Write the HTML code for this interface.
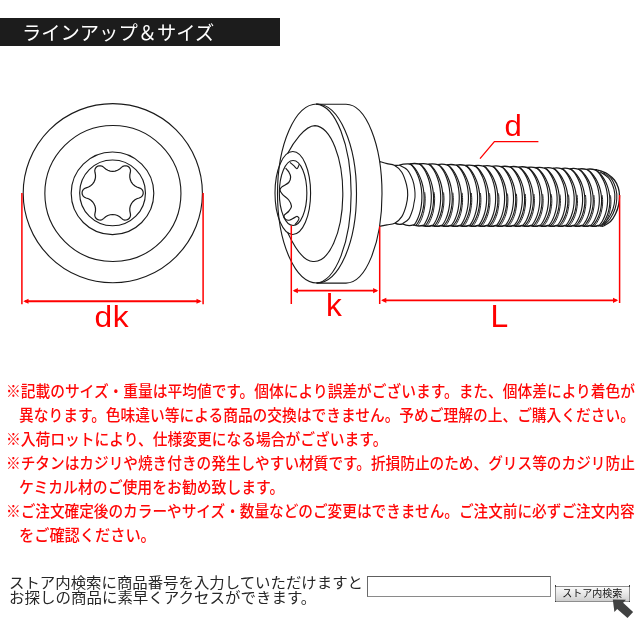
<!DOCTYPE html>
<html lang="ja"><head><meta charset="utf-8"><title>ラインアップ＆サイズ</title>
<style>
html,body{margin:0;padding:0;background:#fff}
body{width:640px;height:640px;position:relative;overflow:hidden;font-family:"Liberation Sans","Noto Sans CJK JP",sans-serif}
.art{position:absolute;left:0;top:0;will-change:transform}
.hd{position:absolute;left:0;top:18px;width:280px;height:28px;background:#1c1c1c;color:#fff;font-size:19.3px;line-height:28px;white-space:nowrap}
.hd span{position:absolute;left:21.5px;top:1.5px;will-change:transform}
.n{position:absolute;left:5.6px;height:24px;line-height:24px;font-size:16px;font-weight:500;color:#ff0808;white-space:nowrap;transform:scaleX(0.92);transform-origin:0 50%}
.n.i{left:18.6px}
.s{position:absolute;left:9.2px;font-size:14.6px;line-height:15px;color:#262626;white-space:nowrap;transform:scaleX(1.058);transform-origin:0 50%;will-change:transform}
.inp{position:absolute;left:367px;top:576px;width:182px;height:19px;box-sizing:content-box;border:1px solid #8a8a8a;border-top-color:#5e5e5e;border-left-color:#6a6a6a;background:#fff}
.btn{position:absolute;left:555px;top:585.5px;width:72.6px;height:14.1px;border:1px solid #8e8e8e;background:linear-gradient(#fafafa,#e9e9e9 45%,#cfcfcf);font-size:10px;line-height:14.4px;color:#111;text-align:center;font-weight:400;white-space:nowrap;box-sizing:content-box;will-change:transform}
.h{position:absolute;width:1.8px;height:1.8px;background:#3a3a3a}
.cur{position:absolute;left:610px;top:596px}
</style></head><body>
<div class="hd"><span>ラインアップ＆サイズ</span></div>
<svg class="art" width="640" height="640" viewBox="0 0 640 640">
<g fill="none" stroke="#1a1a1a" stroke-width="1.12">
<circle cx="112.8" cy="193.2" r="89.6"/>
<circle cx="112.9" cy="193.5" r="68.05"/>
<circle cx="112.5" cy="193.3" r="41.3"/>
<circle cx="112.55" cy="192.9" r="32.9"/>
<path d="M139.17 187.82L140.79 188.48L142.1 189.64L142.96 191.17L143.25 192.9L142.96 194.63L142.1 196.16L140.79 197.32L139.17 197.98L136.81 198.76L134.66 200.02L132.82 201.69L131.36 203.7L130.34 205.97L129.82 208.4L129.81 210.89L130.31 213.33L130.55 215.06L130.2 216.78L129.3 218.28L127.95 219.4L126.31 220.01L124.56 220.04L122.89 219.48L121.51 218.41L119.65 216.75L117.49 215.52L115.12 214.76L112.65 214.5L110.18 214.76L107.81 215.52L105.65 216.75L103.79 218.41L102.41 219.48L100.74 220.04L98.99 220.01L97.35 219.4L96 218.28L95.1 216.78L94.75 215.06L94.99 213.33L95.49 210.89L95.48 208.4L94.96 205.97L93.94 203.7L92.48 201.69L90.64 200.02L88.49 198.76L86.13 197.98L84.51 197.32L83.2 196.16L82.34 194.63L82.05 192.9L82.34 191.17L83.2 189.64L84.51 188.48L86.13 187.82L88.49 187.04L90.64 185.78L92.48 184.11L93.94 182.1L94.96 179.83L95.48 177.4L95.49 174.91L94.99 172.47L94.75 170.74L95.1 169.02L96 167.52L97.35 166.4L98.99 165.79L100.74 165.76L102.41 166.32L103.79 167.39L105.65 169.05L107.81 170.28L110.18 171.04L112.65 171.3L115.12 171.04L117.49 170.28L119.65 169.05L121.51 167.39L122.89 166.32L124.56 165.76L126.31 165.79L127.95 166.4L129.3 167.52L130.2 169.02L130.55 170.74L130.31 172.47L129.81 174.91L129.82 177.4L130.34 179.83L131.36 182.1L132.82 184.11L134.66 185.78L136.81 187.04Z" stroke-width="1.2"/>
<ellipse cx="317" cy="193.55" rx="39.5" ry="89.5"/>
<path d="M316 104.1A36 89.5 0 0 1 316 283.05"/>
<path d="M316.5 104.3L346 104.3A36 89.4 0 0 1 346 283.1L317 283.1"/>
<path d="M287.5 153.8C293 143 305 125.6 315 125.6A28.6 67.5 0 0 1 313 261.5C303 261.5 293 244 287.5 232.2"/>
<ellipse cx="292.8" cy="193" rx="17.8" ry="41.5"/>
<ellipse cx="293.1" cy="193" rx="13.75" ry="32.5"/>
<path d="M285.62 168.12C286.15 168.75 287.92 170.42 288.75 171.88C289.58 173.33 290.62 175.1 290.62 176.88C290.62 178.65 290.21 180.83 288.75 182.5C287.29 184.17 283.33 185.62 281.88 186.88C280.42 188.12 279.9 188.75 280 190C280.1 191.25 281.04 192.71 282.5 194.38C283.96 196.04 287.25 198.02 288.75 200C290.25 201.98 291.5 204.38 291.5 206.25C291.5 208.12 290 209.69 288.75 211.25C287.5 212.81 284.52 214.27 284 215.62C283.48 216.98 284.62 218.65 285.62 219.38C286.62 220.1 288.12 220.52 290 220C291.88 219.48 295.73 216.88 296.88 216.25" stroke-width="1.2"/>
<path d="M290 162.5C290.62 163.02 292.6 164.58 293.75 165.62C294.9 166.67 296.08 168.65 296.88 168.75C297.67 168.85 298.08 167.04 298.5 166.25C298.92 165.46 299.23 164.38 299.38 164"/>
<path d="M296.88 216.25C297.23 216.56 298.85 217.29 299 218.12C299.15 218.96 298.42 220.17 297.75 221.25C297.08 222.33 295.46 224.06 295 224.62"/>
<path d="M379.9 161.6C381.08 161.93 384.52 162.95 387 163.6C389.48 164.25 392.28 164.07 394.75 165.5C397.22 166.93 399.84 169 401.8 172.2C403.76 175.4 405.52 180.9 406.5 184.7C407.48 188.5 407.77 191.52 407.7 195C407.63 198.48 407.08 202 406.1 205.6C405.12 209.2 403.69 213.67 401.8 216.6C399.91 219.53 397.22 221.82 394.75 223.2C392.28 224.58 389.54 224.38 387 224.9C384.46 225.42 380.75 226.07 379.5 226.3" stroke-width="1.15"/>
<path d="M399.4 165.2C400.71 165.97 405.03 167.33 407.25 169.8C409.47 172.27 411.46 176.73 412.7 180C413.94 183.27 414.32 186.57 414.7 189.4C415.08 192.23 415.13 194.65 415 197C414.87 199.35 414.28 201.42 413.9 203.5C413.52 205.58 413.55 206.93 412.7 209.5C411.85 212.07 410.48 216.55 408.8 218.9C407.12 221.25 403.63 222.82 402.6 223.6" stroke-width="1.05"/>
<path d="M409.8 164C410.02 164.13 410.56 164.26 411.13 164.77C411.71 165.28 412.5 166.06 413.24 167.05C413.99 168.04 414.84 169.29 415.62 170.71C416.4 172.13 417.21 173.8 417.91 175.58C418.62 177.37 419.3 179.36 419.85 181.41C420.4 183.47 420.88 185.69 421.21 187.92C421.54 190.14 421.76 192.48 421.85 194.76C421.93 197.04 421.88 199.38 421.72 201.6C421.56 203.83 421.26 206.05 420.88 208.11C420.5 210.16 419.99 212.15 419.46 213.94C418.92 215.72 418.28 217.39 417.67 218.81C417.07 220.23 416.39 221.48 415.81 222.47C415.24 223.46 414.62 224.24 414.22 224.75C413.82 225.26 413.54 225.39 413.4 225.52" stroke-width="1.15"/>
<path d="M409.8 164C410.07 164.13 410.72 164.26 411.4 164.77C412.08 165.28 413 166.06 413.87 167.06C414.74 168.05 415.73 169.31 416.64 170.74C417.54 172.17 418.49 173.84 419.31 175.63C420.14 177.42 420.94 179.42 421.59 181.49C422.24 183.55 422.81 185.78 423.22 188.01C423.63 190.25 423.92 192.6 424.05 194.89C424.18 197.18 424.16 199.53 424.02 201.76C423.88 203.99 423.58 206.22 423.19 208.29C422.81 210.35 422.27 212.35 421.71 214.14C421.16 215.93 420.48 217.61 419.84 219.03C419.2 220.46 418.48 221.72 417.87 222.71C417.27 223.71 416.61 224.49 416.2 225C415.79 225.51 415.53 225.64 415.4 225.77" stroke-width="1.15"/>
<path d="M424.77 192.31C424.85 193.38 425.19 196.61 425.22 198.72C425.24 200.84 425.14 202.97 424.94 204.98C424.74 207 424.42 208.98 424.03 210.81C423.65 212.64 423.15 214.4 422.64 215.96C422.13 217.53 421.54 218.98 420.99 220.22C420.43 221.46 419.83 222.54 419.32 223.4C418.82 224.25 418.29 224.92 417.97 225.36C417.65 225.8 417.49 225.91 417.4 226.02" stroke-width="0.95"/>
<path d="M419.19 164C419.41 164.13 419.95 164.27 420.52 164.78C421.1 165.29 421.89 166.08 422.64 167.07C423.39 168.07 424.25 169.34 425.03 170.77C425.81 172.21 426.62 173.89 427.33 175.69C428.04 177.49 428.73 179.5 429.28 181.58C429.83 183.65 430.31 185.9 430.64 188.14C430.97 190.39 431.2 192.75 431.28 195.05C431.37 197.35 431.32 199.71 431.15 201.96C430.99 204.2 430.69 206.45 430.31 208.52C429.93 210.6 429.41 212.61 428.88 214.41C428.34 216.21 427.69 217.89 427.08 219.33C426.47 220.76 425.79 222.03 425.21 223.03C424.64 224.02 424.01 224.81 423.61 225.32C423.21 225.83 422.92 225.97 422.79 226.1" stroke-width="1.15"/>
<path d="M419.19 164C419.45 164.13 420.11 164.27 420.79 164.78C421.47 165.29 422.4 166.08 423.27 167.07C424.15 168.07 425.14 169.34 426.05 170.77C426.96 172.21 427.9 173.89 428.73 175.69C429.56 177.49 430.36 179.5 431.02 181.58C431.67 183.65 432.24 185.9 432.65 188.14C433.06 190.39 433.35 192.75 433.48 195.05C433.62 197.35 433.6 199.71 433.45 201.96C433.31 204.2 433 206.45 432.62 208.52C432.23 210.6 431.7 212.61 431.13 214.41C430.57 216.21 429.89 217.89 429.25 219.33C428.6 220.76 427.88 222.03 427.27 223.03C426.66 224.02 426.01 224.81 425.59 225.32C425.18 225.83 424.92 225.97 424.79 226.1" stroke-width="1.15"/>
<path d="M434.21 192.34C434.28 193.41 434.62 196.65 434.65 198.77C434.68 200.88 434.57 203.01 434.37 205.03C434.17 207.05 433.84 209.03 433.46 210.87C433.07 212.7 432.57 214.46 432.06 216.03C431.55 217.6 430.95 219.05 430.39 220.29C429.84 221.53 429.23 222.61 428.72 223.47C428.22 224.33 427.68 225 427.36 225.44C427.04 225.87 426.88 225.99 426.79 226.1" stroke-width="0.95"/>
<path d="M428.51 164.28C428.74 164.41 429.28 164.54 429.85 165.05C430.43 165.56 431.23 166.34 431.98 167.34C432.74 168.33 433.59 169.59 434.37 171.02C435.16 172.45 435.98 174.12 436.69 175.92C437.4 177.71 438.09 179.71 438.64 181.78C439.2 183.84 439.68 186.07 440.01 188.31C440.35 190.55 440.57 192.9 440.65 195.19C440.74 197.48 440.69 199.83 440.52 202.07C440.36 204.3 440.05 206.53 439.67 208.6C439.29 210.67 438.77 212.67 438.23 214.46C437.69 216.25 437.05 217.93 436.43 219.36C435.82 220.79 435.14 222.04 434.55 223.04C433.97 224.03 433.35 224.81 432.94 225.32C432.53 225.84 432.25 225.97 432.11 226.1" stroke-width="1.15"/>
<path d="M428.51 164.28C428.78 164.41 429.44 164.54 430.12 165.05C430.81 165.56 431.73 166.34 432.61 167.34C433.49 168.33 434.48 169.59 435.39 171.02C436.31 172.45 437.26 174.12 438.09 175.92C438.92 177.71 439.73 179.71 440.38 181.78C441.04 183.84 441.61 186.07 442.02 188.31C442.43 190.55 442.72 192.9 442.85 195.19C442.99 197.48 442.97 199.83 442.82 202.07C442.68 204.3 442.37 206.53 441.98 208.6C441.59 210.67 441.06 212.67 440.49 214.46C439.93 216.25 439.24 217.93 438.59 219.36C437.95 220.79 437.22 222.04 436.61 223.04C436 224.03 435.34 224.81 434.92 225.32C434.51 225.84 434.25 225.97 434.11 226.1" stroke-width="1.15"/>
<path d="M443.58 192.49C443.65 193.56 443.99 196.78 444.02 198.89C444.05 200.99 443.94 203.12 443.74 205.12C443.54 207.13 443.21 209.11 442.82 210.94C442.43 212.76 441.93 214.51 441.41 216.07C440.9 217.64 440.3 219.08 439.74 220.31C439.18 221.55 438.57 222.63 438.06 223.48C437.55 224.34 437.01 225 436.69 225.44C436.36 225.87 436.21 225.99 436.11 226.1" stroke-width="0.95"/>
<path d="M437.78 164.58C438 164.71 438.54 164.84 439.12 165.35C439.7 165.86 440.5 166.63 441.26 167.62C442.02 168.61 442.87 169.87 443.66 171.29C444.45 172.71 445.27 174.38 445.99 176.16C446.7 177.94 447.39 179.94 447.95 181.99C448.5 184.05 448.98 186.27 449.32 188.49C449.66 190.72 449.88 193.06 449.97 195.34C450.05 197.62 450 199.96 449.83 202.18C449.67 204.41 449.36 206.63 448.98 208.69C448.59 210.74 448.07 212.73 447.53 214.52C446.99 216.3 446.34 217.97 445.72 219.39C445.1 220.81 444.42 222.06 443.83 223.05C443.25 224.04 442.62 224.82 442.21 225.33C441.8 225.84 441.52 225.97 441.38 226.1" stroke-width="1.15"/>
<path d="M437.78 164.58C438.05 164.71 438.71 164.84 439.39 165.35C440.08 165.86 441.01 166.63 441.89 167.62C442.77 168.61 443.77 169.87 444.68 171.29C445.6 172.71 446.55 174.38 447.39 176.16C448.22 177.94 449.03 179.94 449.69 181.99C450.34 184.05 450.92 186.27 451.33 188.49C451.75 190.72 452.03 193.06 452.17 195.34C452.3 197.62 452.28 199.96 452.13 202.18C451.99 204.41 451.68 206.63 451.29 208.69C450.9 210.74 450.36 212.73 449.79 214.52C449.22 216.3 448.53 217.97 447.88 219.39C447.23 220.81 446.5 222.06 445.89 223.05C445.27 224.04 444.61 224.82 444.19 225.33C443.77 225.84 443.51 225.97 443.38 226.1" stroke-width="1.15"/>
<path d="M452.89 192.66C452.96 193.72 453.3 196.93 453.33 199.02C453.36 201.12 453.25 203.23 453.05 205.23C452.84 207.22 452.51 209.19 452.12 211.01C451.73 212.82 451.22 214.57 450.71 216.12C450.19 217.68 449.59 219.11 449.02 220.34C448.46 221.57 447.85 222.65 447.34 223.49C446.82 224.34 446.28 225.01 445.96 225.44C445.63 225.88 445.47 225.99 445.38 226.1" stroke-width="0.95"/>
<path d="M446.98 164.88C447.21 165 447.75 165.14 448.33 165.64C448.92 166.15 449.72 166.92 450.48 167.91C451.24 168.89 452.1 170.14 452.89 171.56C453.68 172.97 454.51 174.63 455.22 176.4C455.94 178.18 456.63 180.16 457.19 182.21C457.75 184.25 458.23 186.46 458.57 188.68C458.91 190.89 459.13 193.22 459.22 195.49C459.3 197.76 459.25 200.09 459.08 202.3C458.92 204.51 458.61 206.72 458.22 208.77C457.83 210.82 457.31 212.8 456.77 214.57C456.22 216.35 455.57 218.01 454.95 219.42C454.33 220.84 453.64 222.08 453.05 223.07C452.46 224.05 451.83 224.83 451.42 225.33C451.01 225.84 450.72 225.97 450.58 226.1" stroke-width="1.15"/>
<path d="M446.98 164.88C447.25 165 447.91 165.14 448.6 165.64C449.29 166.15 450.22 166.92 451.11 167.91C451.99 168.89 452.99 170.14 453.91 171.56C454.83 172.97 455.79 174.63 456.62 176.4C457.46 178.18 458.27 180.16 458.93 182.21C459.59 184.25 460.17 186.46 460.58 188.68C460.99 190.89 461.28 193.22 461.42 195.49C461.55 197.76 461.53 200.09 461.38 202.3C461.23 204.51 460.92 206.72 460.53 208.77C460.14 210.82 459.59 212.8 459.02 214.57C458.45 216.35 457.76 218.01 457.11 219.42C456.46 220.84 455.72 222.08 455.11 223.07C454.49 224.05 453.82 224.83 453.4 225.33C452.98 225.84 452.72 225.97 452.58 226.1" stroke-width="1.15"/>
<path d="M462.14 192.82C462.21 193.88 462.55 197.07 462.58 199.15C462.61 201.24 462.5 203.34 462.29 205.33C462.09 207.32 461.75 209.28 461.36 211.08C460.97 212.89 460.46 214.62 459.94 216.17C459.42 217.72 458.81 219.15 458.25 220.37C457.68 221.59 457.07 222.66 456.55 223.51C456.04 224.35 455.49 225.01 455.17 225.44C454.84 225.88 454.68 225.99 454.58 226.1" stroke-width="0.95"/>
<path d="M456.13 165.17C456.35 165.3 456.9 165.44 457.48 165.94C458.07 166.44 458.87 167.21 459.63 168.19C460.4 169.17 461.26 170.41 462.06 171.82C462.85 173.23 463.68 174.88 464.4 176.64C465.12 178.41 465.81 180.38 466.37 182.42C466.93 184.46 467.42 186.66 467.76 188.86C468.1 191.06 468.32 193.38 468.41 195.64C468.49 197.9 468.44 200.21 468.27 202.42C468.1 204.62 467.79 206.82 467.4 208.85C467.01 210.89 466.49 212.86 465.94 214.63C465.39 216.4 464.74 218.05 464.11 219.45C463.49 220.86 462.8 222.1 462.21 223.08C461.62 224.06 460.98 224.83 460.57 225.34C460.15 225.84 459.87 225.97 459.73 226.1" stroke-width="1.15"/>
<path d="M456.13 165.17C456.4 165.3 457.06 165.44 457.75 165.94C458.44 166.44 459.38 167.21 460.26 168.19C461.15 169.17 462.15 170.41 463.08 171.82C464 173.23 464.96 174.88 465.8 176.64C466.64 178.41 467.45 180.38 468.11 182.42C468.78 184.46 469.35 186.66 469.77 188.86C470.18 191.06 470.47 193.38 470.61 195.64C470.74 197.9 470.72 200.21 470.57 202.42C470.42 204.62 470.11 206.82 469.71 208.85C469.32 210.89 468.77 212.86 468.2 214.63C467.63 216.4 466.93 218.05 466.28 219.45C465.62 220.86 464.88 222.1 464.26 223.08C463.64 224.06 462.97 224.83 462.55 225.34C462.13 225.84 461.86 225.97 461.73 226.1" stroke-width="1.15"/>
<path d="M471.33 192.98C471.4 194.03 471.75 197.21 471.77 199.28C471.8 201.36 471.68 203.45 471.48 205.43C471.28 207.41 470.94 209.36 470.54 211.16C470.15 212.95 469.64 214.68 469.11 216.22C468.59 217.76 467.98 219.18 467.41 220.4C466.85 221.62 466.22 222.68 465.71 223.52C465.19 224.36 464.64 225.02 464.31 225.45C463.98 225.88 463.82 225.99 463.73 226.1" stroke-width="0.95"/>
<path d="M465.21 165.47C465.44 165.6 465.99 165.73 466.57 166.23C467.16 166.73 467.97 167.5 468.73 168.47C469.5 169.45 470.37 170.68 471.16 172.08C471.96 173.49 472.79 175.13 473.52 176.88C474.24 178.64 474.94 180.61 475.5 182.63C476.06 184.66 476.55 186.85 476.89 189.04C477.23 191.23 477.45 193.54 477.54 195.78C477.62 198.03 477.57 200.34 477.4 202.53C477.23 204.72 476.92 206.91 476.53 208.94C476.14 210.96 475.61 212.93 475.06 214.69C474.51 216.44 473.85 218.08 473.22 219.49C472.6 220.89 471.9 222.12 471.3 223.1C470.71 224.07 470.07 224.84 469.66 225.34C469.24 225.84 468.95 225.97 468.81 226.1" stroke-width="1.15"/>
<path d="M465.21 165.47C465.48 165.6 466.15 165.73 466.84 166.23C467.53 166.73 468.47 167.5 469.36 168.47C470.25 169.45 471.26 170.68 472.18 172.08C473.11 173.49 474.07 175.13 474.92 176.88C475.76 178.64 476.57 180.61 477.24 182.63C477.9 184.66 478.48 186.85 478.9 189.04C479.31 191.23 479.6 193.54 479.74 195.78C479.87 198.03 479.85 200.34 479.7 202.53C479.55 204.72 479.24 206.91 478.84 208.94C478.44 210.96 477.89 212.93 477.32 214.69C476.74 216.44 476.04 218.08 475.38 219.49C474.72 220.89 473.99 222.12 473.36 223.1C472.74 224.07 472.07 224.84 471.64 225.34C471.22 225.84 470.95 225.97 470.81 226.1" stroke-width="1.15"/>
<path d="M480.46 193.14C480.53 194.19 480.88 197.35 480.9 199.41C480.93 201.48 480.81 203.56 480.61 205.53C480.4 207.5 480.06 209.44 479.66 211.23C479.27 213.02 478.75 214.73 478.23 216.27C477.7 217.8 477.09 219.22 476.52 220.43C475.95 221.64 475.32 222.7 474.8 223.53C474.29 224.37 473.74 225.02 473.4 225.45C473.07 225.88 472.91 225.99 472.81 226.1" stroke-width="0.95"/>
<path d="M474.24 165.76C474.46 165.89 475.01 166.02 475.6 166.52C476.19 167.02 477 167.78 477.77 168.75C478.54 169.72 479.41 170.95 480.21 172.34C481.01 173.74 481.85 175.37 482.57 177.12C483.3 178.87 484 180.83 484.56 182.84C485.13 184.86 485.61 187.04 485.96 189.22C486.3 191.4 486.52 193.69 486.61 195.93C486.69 198.17 486.64 200.46 486.47 202.64C486.3 204.83 485.98 207 485.59 209.02C485.2 211.04 484.67 212.99 484.12 214.74C483.56 216.49 482.9 218.12 482.27 219.52C481.64 220.91 480.94 222.14 480.34 223.11C479.75 224.08 479.11 224.85 478.69 225.34C478.27 225.84 477.98 225.97 477.84 226.1" stroke-width="1.15"/>
<path d="M474.24 165.76C474.51 165.89 475.18 166.02 475.87 166.52C476.57 167.02 477.51 167.78 478.4 168.75C479.29 169.72 480.3 170.95 481.23 172.34C482.16 173.74 483.13 175.37 483.97 177.12C484.82 178.87 485.64 180.83 486.3 182.84C486.97 184.86 487.55 187.04 487.97 189.22C488.39 191.4 488.67 193.69 488.81 195.93C488.94 198.17 488.92 200.46 488.77 202.64C488.62 204.83 488.3 207 487.9 209.02C487.5 211.04 486.95 212.99 486.37 214.74C485.8 216.49 485.09 218.12 484.43 219.52C483.77 220.91 483.03 222.14 482.4 223.11C481.77 224.08 481.1 224.85 480.67 225.34C480.24 225.84 479.98 225.97 479.84 226.1" stroke-width="1.15"/>
<path d="M489.53 193.3C489.6 194.34 489.95 197.49 489.97 199.54C490 201.6 489.88 203.67 489.68 205.63C489.47 207.59 489.12 209.52 488.73 211.3C488.33 213.08 487.81 214.79 487.28 216.31C486.76 217.84 486.14 219.25 485.57 220.45C484.99 221.66 484.36 222.71 483.84 223.55C483.32 224.38 482.77 225.03 482.43 225.45C482.1 225.88 481.94 225.99 481.84 226.1" stroke-width="0.95"/>
<path d="M483.2 166.05C483.43 166.18 483.98 166.31 484.58 166.81C485.17 167.3 485.98 168.06 486.75 169.03C487.52 169.99 488.4 171.22 489.2 172.6C490.01 173.99 490.84 175.62 491.57 177.36C492.3 179.1 493 181.04 493.57 183.05C494.13 185.06 494.62 187.23 494.97 189.4C495.31 191.57 495.53 193.85 495.62 196.08C495.71 198.3 495.65 200.59 495.48 202.76C495.31 204.93 494.99 207.1 494.6 209.1C494.2 211.11 493.67 213.05 493.11 214.8C492.56 216.54 491.89 218.16 491.26 219.55C490.63 220.94 489.92 222.16 489.32 223.13C488.72 224.09 488.08 224.85 487.66 225.35C487.24 225.84 486.95 225.97 486.8 226.1" stroke-width="1.15"/>
<path d="M483.2 166.05C483.48 166.18 484.15 166.31 484.84 166.81C485.54 167.3 486.48 168.06 487.38 169.03C488.28 169.99 489.29 171.22 490.22 172.6C491.15 173.99 492.12 175.62 492.97 177.36C493.82 179.1 494.64 181.04 495.31 183.05C495.98 185.06 496.56 187.23 496.98 189.4C497.4 191.57 497.69 193.85 497.82 196.08C497.95 198.3 497.93 200.59 497.78 202.76C497.63 204.93 497.31 207.1 496.91 209.1C496.51 211.11 495.95 213.05 495.37 214.8C494.79 216.54 494.09 218.16 493.42 219.55C492.76 220.94 492.01 222.16 491.38 223.13C490.75 224.09 490.07 224.85 489.64 225.35C489.21 225.84 488.94 225.97 488.8 226.1" stroke-width="1.15"/>
<path d="M498.54 193.46C498.62 194.5 498.96 197.63 498.98 199.67C499.01 201.72 498.89 203.78 498.68 205.73C498.47 207.68 498.13 209.6 497.73 211.37C497.33 213.14 496.81 214.84 496.28 216.36C495.75 217.88 495.13 219.28 494.55 220.48C493.98 221.68 493.35 222.73 492.82 223.56C492.3 224.39 491.74 225.03 491.41 225.46C491.07 225.88 490.9 225.99 490.8 226.1" stroke-width="0.95"/>
<path d="M492.11 166.34C492.34 166.47 492.9 166.6 493.49 167.09C494.08 167.59 494.9 168.34 495.67 169.3C496.45 170.26 497.33 171.48 498.13 172.86C498.94 174.24 499.78 175.86 500.51 177.59C501.24 179.33 501.95 181.26 502.52 183.26C503.08 185.25 503.58 187.41 503.92 189.57C504.26 191.73 504.49 194.01 504.57 196.22C504.66 198.44 504.6 200.71 504.43 202.87C504.26 205.03 503.94 207.19 503.54 209.19C503.15 211.18 502.61 213.12 502.05 214.85C501.5 216.58 500.83 218.2 500.19 219.58C499.56 220.96 498.85 222.18 498.25 223.14C497.64 224.1 497 224.86 496.58 225.35C496.15 225.84 495.86 225.98 495.71 226.1" stroke-width="1.15"/>
<path d="M492.11 166.34C492.39 166.47 493.06 166.6 493.76 167.09C494.46 167.59 495.4 168.34 496.3 169.3C497.2 170.26 498.22 171.48 499.15 172.86C500.09 174.24 501.06 175.86 501.91 177.59C502.76 179.33 503.59 181.26 504.26 183.26C504.93 185.25 505.51 187.41 505.93 189.57C506.35 191.73 506.64 194.01 506.77 196.22C506.91 198.44 506.88 200.71 506.73 202.87C506.58 205.03 506.26 207.19 505.86 209.19C505.45 211.18 504.9 213.12 504.31 214.85C503.73 216.58 503.02 218.2 502.35 219.58C501.68 220.96 500.94 222.18 500.3 223.14C499.67 224.1 498.99 224.86 498.56 225.35C498.13 225.84 497.85 225.98 497.71 226.1" stroke-width="1.15"/>
<path d="M507.5 193.62C507.57 194.65 507.91 197.76 507.94 199.8C507.96 201.83 507.84 203.89 507.63 205.83C507.42 207.77 507.08 209.68 506.67 211.44C506.27 213.21 505.75 214.9 505.22 216.41C504.68 217.92 504.06 219.31 503.48 220.51C502.9 221.7 502.27 222.74 501.74 223.57C501.21 224.4 500.66 225.04 500.32 225.46C499.98 225.88 499.81 225.99 499.71 226.1" stroke-width="0.95"/>
<path d="M500.96 166.63C501.19 166.76 501.75 166.89 502.35 167.38C502.94 167.87 503.76 168.62 504.54 169.58C505.32 170.53 506.2 171.74 507.01 173.12C507.82 174.49 508.66 176.1 509.39 177.83C510.13 179.55 510.84 181.48 511.4 183.46C511.97 185.45 512.47 187.6 512.81 189.75C513.16 191.9 513.38 194.16 513.47 196.37C513.56 198.57 513.5 200.83 513.33 202.98C513.15 205.13 512.83 207.28 512.43 209.27C512.04 211.25 511.5 213.18 510.94 214.9C510.37 216.63 509.7 218.24 509.06 219.61C508.43 220.99 507.72 222.2 507.11 223.16C506.5 224.11 505.86 224.86 505.43 225.35C505.01 225.85 504.71 225.98 504.56 226.1" stroke-width="1.15"/>
<path d="M500.96 166.63C501.24 166.76 501.91 166.89 502.61 167.38C503.31 167.87 504.27 168.62 505.17 169.58C506.07 170.53 507.09 171.74 508.03 173.12C508.96 174.49 509.94 176.1 510.79 177.83C511.65 179.55 512.47 181.48 513.15 183.46C513.82 185.45 514.4 187.6 514.82 189.75C515.25 191.9 515.54 194.16 515.67 196.37C515.8 198.57 515.78 200.83 515.62 202.98C515.47 205.13 515.15 207.28 514.75 209.27C514.34 211.25 513.78 213.18 513.19 214.9C512.61 216.63 511.9 218.24 511.23 219.61C510.55 220.99 509.8 222.2 509.17 223.16C508.53 224.11 507.85 224.86 507.41 225.35C506.98 225.85 506.71 225.98 506.56 226.1" stroke-width="1.15"/>
<path d="M516.39 193.77C516.46 194.8 516.81 197.9 516.83 199.92C516.85 201.95 516.74 203.99 516.53 205.92C516.31 207.85 515.97 209.76 515.56 211.51C515.16 213.27 514.63 214.95 514.1 216.45C513.56 217.96 512.93 219.35 512.35 220.54C511.77 221.72 511.13 222.76 510.6 223.58C510.07 224.4 509.51 225.04 509.17 225.46C508.83 225.88 508.67 225.99 508.56 226.1" stroke-width="0.95"/>
<path d="M509.76 166.92C509.99 167.04 510.55 167.17 511.14 167.66C511.74 168.15 512.56 168.9 513.34 169.85C514.12 170.8 515.01 172 515.82 173.37C516.63 174.74 517.48 176.34 518.22 178.06C518.95 179.77 519.66 181.69 520.24 183.67C520.81 185.65 521.3 187.78 521.65 189.92C521.99 192.06 522.22 194.31 522.31 196.51C522.39 198.7 522.34 200.95 522.16 203.09C521.99 205.23 521.67 207.37 521.26 209.35C520.86 211.33 520.32 213.24 519.76 214.96C519.2 216.67 518.52 218.28 517.88 219.64C517.24 221.01 516.52 222.22 515.92 223.17C515.31 224.12 514.66 224.87 514.23 225.36C513.8 225.85 513.5 225.98 513.36 226.1" stroke-width="1.15"/>
<path d="M509.76 166.92C510.03 167.04 510.71 167.17 511.41 167.66C512.12 168.15 513.07 168.9 513.97 169.85C514.88 170.8 515.9 172 516.84 173.37C517.78 174.74 518.76 176.34 519.62 178.06C520.47 179.77 521.3 181.69 521.98 183.67C522.65 185.65 523.24 187.78 523.66 189.92C524.08 192.06 524.37 194.31 524.51 196.51C524.64 198.7 524.62 200.95 524.46 203.09C524.31 205.23 523.98 207.37 523.58 209.35C523.17 211.33 522.61 213.24 522.02 214.96C521.43 216.67 520.72 218.28 520.04 219.64C519.37 221.01 518.61 222.22 517.97 223.17C517.34 224.12 516.65 224.87 516.21 225.36C515.78 225.85 515.5 225.98 515.36 226.1" stroke-width="1.15"/>
<path d="M525.23 193.93C525.3 194.95 525.65 198.04 525.67 200.05C525.69 202.07 525.57 204.1 525.36 206.02C525.15 207.94 524.8 209.84 524.39 211.58C523.98 213.33 523.45 215 522.92 216.5C522.38 218 521.75 219.38 521.17 220.56C520.58 221.74 519.94 222.78 519.41 223.59C518.88 224.41 518.31 225.05 517.97 225.47C517.63 225.88 517.46 225.99 517.36 226.1" stroke-width="0.95"/>
<path d="M518.49 167.2C518.73 167.32 519.29 167.45 519.88 167.94C520.48 168.43 521.31 169.17 522.09 170.12C522.88 171.07 523.76 172.26 524.58 173.63C525.39 174.99 526.25 176.58 526.98 178.29C527.72 180 528.44 181.9 529.01 183.87C529.58 185.84 530.08 187.97 530.43 190.1C530.77 192.23 531 194.47 531.09 196.65C531.17 198.83 531.12 201.07 530.94 203.2C530.77 205.33 530.44 207.46 530.04 209.43C529.64 211.4 529.09 213.3 528.53 215.01C527.96 216.72 527.28 218.31 526.64 219.68C525.99 221.04 525.28 222.24 524.67 223.18C524.05 224.13 523.4 224.88 522.97 225.36C522.54 225.85 522.24 225.98 522.09 226.1" stroke-width="1.15"/>
<path d="M518.49 167.2C518.77 167.32 519.45 167.45 520.15 167.94C520.86 168.43 521.81 169.17 522.72 170.12C523.63 171.07 524.66 172.26 525.6 173.63C526.54 174.99 527.53 176.58 528.39 178.29C529.24 180 530.08 181.9 530.75 183.87C531.43 185.84 532.02 187.97 532.44 190.1C532.86 192.23 533.15 194.47 533.29 196.65C533.42 198.83 533.4 201.07 533.24 203.2C533.08 205.33 532.76 207.46 532.35 209.43C531.94 211.4 531.38 213.3 530.79 215.01C530.19 216.72 529.48 218.31 528.8 219.68C528.12 221.04 527.36 222.24 526.72 223.18C526.08 224.13 525.39 224.88 524.95 225.36C524.52 225.85 524.24 225.98 524.09 226.1" stroke-width="1.15"/>
<path d="M534.01 194.08C534.08 195.1 534.43 198.17 534.45 200.18C534.47 202.18 534.35 204.2 534.14 206.12C533.92 208.03 533.57 209.91 533.16 211.65C532.75 213.39 532.22 215.06 531.68 216.55C531.14 218.04 530.51 219.41 529.92 220.59C529.33 221.77 528.69 222.79 528.16 223.61C527.62 224.42 527.06 225.05 526.71 225.47C526.37 225.89 526.2 225.99 526.09 226.1" stroke-width="0.95"/>
<path d="M527.17 167.48C527.41 167.61 527.97 167.73 528.57 168.22C529.17 168.7 530 169.44 530.79 170.39C531.57 171.33 532.46 172.52 533.28 173.88C534.1 175.23 534.95 176.82 535.69 178.52C536.44 180.22 537.15 182.12 537.73 184.08C538.3 186.03 538.8 188.15 539.15 190.27C539.5 192.39 539.72 194.62 539.81 196.79C539.9 198.97 539.84 201.19 539.66 203.31C539.49 205.43 539.16 207.55 538.76 209.51C538.35 211.47 537.81 213.37 537.24 215.07C536.67 216.76 535.98 218.35 535.34 219.71C534.69 221.06 533.97 222.25 533.36 223.2C532.74 224.14 532.09 224.88 531.65 225.37C531.22 225.85 530.92 225.98 530.77 226.1" stroke-width="1.15"/>
<path d="M527.17 167.48C527.45 167.61 528.13 167.73 528.84 168.22C529.54 168.7 530.5 169.44 531.41 170.39C532.32 171.33 533.35 172.52 534.3 173.88C535.25 175.23 536.23 176.82 537.1 178.52C537.96 180.22 538.79 182.12 539.47 184.08C540.15 186.03 540.74 188.15 541.16 190.27C541.58 192.39 541.88 194.62 542.01 196.79C542.14 198.97 542.12 201.19 541.96 203.31C541.8 205.43 541.48 207.55 541.07 209.51C540.66 211.47 540.09 213.37 539.5 215.07C538.9 216.76 538.18 218.35 537.5 219.71C536.82 221.06 536.06 222.25 535.41 223.2C534.77 224.14 534.08 224.88 533.64 225.37C533.2 225.85 532.92 225.98 532.77 226.1" stroke-width="1.15"/>
<path d="M542.73 194.24C542.8 195.25 543.15 198.3 543.17 200.3C543.19 202.3 543.07 204.31 542.86 206.21C542.64 208.12 542.29 209.99 541.88 211.72C541.46 213.45 540.93 215.11 540.39 216.59C539.85 218.07 539.21 219.44 538.62 220.61C538.03 221.79 537.39 222.81 536.85 223.62C536.31 224.43 535.74 225.06 535.4 225.47C535.05 225.89 534.88 226 534.77 226.1" stroke-width="0.95"/>
<path d="M535.8 167.76C536.03 167.89 536.59 168.01 537.2 168.49C537.8 168.98 538.63 169.71 539.42 170.65C540.21 171.59 541.1 172.78 541.93 174.13C542.75 175.48 543.6 177.05 544.35 178.75C545.09 180.44 545.81 182.33 546.39 184.28C546.97 186.23 547.47 188.33 547.81 190.44C548.16 192.55 548.39 194.77 548.48 196.93C548.56 199.1 548.5 201.31 548.33 203.42C548.15 205.53 547.82 207.64 547.42 209.59C547.01 211.54 546.46 213.43 545.89 215.12C545.32 216.81 544.63 218.39 543.98 219.74C543.33 221.09 542.61 222.27 541.99 223.21C541.38 224.15 540.72 224.89 540.28 225.37C539.85 225.85 539.55 225.98 539.4 226.1" stroke-width="1.15"/>
<path d="M535.8 167.76C536.08 167.89 536.76 168.01 537.47 168.49C538.17 168.98 539.14 169.71 540.05 170.65C540.96 171.59 542 172.78 542.94 174.13C543.89 175.48 544.88 177.05 545.75 178.75C546.61 180.44 547.45 182.33 548.13 184.28C548.81 186.23 549.4 188.33 549.83 190.44C550.25 192.55 550.54 194.77 550.68 196.93C550.81 199.1 550.78 201.31 550.63 203.42C550.47 205.53 550.14 207.64 549.73 209.59C549.32 211.54 548.75 213.43 548.15 215.12C547.55 216.81 546.83 218.39 546.14 219.74C545.46 221.09 544.7 222.27 544.05 223.21C543.4 224.15 542.71 224.89 542.27 225.37C541.82 225.85 541.54 225.98 541.4 226.1" stroke-width="1.15"/>
<path d="M551.4 194.39C551.47 195.4 551.82 198.44 551.84 200.42C551.86 202.41 551.74 204.41 551.52 206.31C551.3 208.2 550.95 210.07 550.53 211.79C550.12 213.51 549.58 215.16 549.04 216.64C548.49 218.11 547.86 219.48 547.26 220.64C546.67 221.81 546.02 222.82 545.48 223.63C544.94 224.44 544.37 225.06 544.02 225.48C543.68 225.89 543.5 226 543.4 226.1" stroke-width="0.95"/>
<path d="M544.37 168.04C544.6 168.16 545.16 168.29 545.77 168.77C546.37 169.25 547.21 169.98 548 170.92C548.79 171.85 549.69 173.03 550.51 174.38C551.34 175.72 552.2 177.29 552.94 178.97C553.69 180.66 554.41 182.54 554.99 184.48C555.57 186.42 556.07 188.51 556.42 190.61C556.77 192.71 557 194.92 557.09 197.07C557.17 199.22 557.11 201.43 556.94 203.53C556.76 205.63 556.43 207.73 556.02 209.67C555.61 211.61 555.06 213.49 554.49 215.17C553.91 216.85 553.22 218.42 552.57 219.77C551.92 221.11 551.19 222.29 550.57 223.23C549.95 224.16 549.29 224.89 548.85 225.37C548.42 225.85 548.11 225.98 547.97 226.1" stroke-width="1.15"/>
<path d="M544.37 168.04C544.64 168.16 545.33 168.29 546.04 168.77C546.75 169.25 547.71 169.98 548.63 170.92C549.55 171.85 550.58 173.03 551.53 174.38C552.49 175.72 553.48 177.29 554.35 178.97C555.21 180.66 556.05 182.54 556.73 184.48C557.41 186.42 558.01 188.51 558.43 190.61C558.86 192.71 559.15 194.92 559.29 197.07C559.42 199.22 559.39 201.43 559.23 203.53C559.07 205.63 558.75 207.73 558.33 209.67C557.92 211.61 557.34 213.49 556.75 215.17C556.15 216.85 555.42 218.42 554.73 219.77C554.05 221.11 553.28 222.29 552.63 223.23C551.98 224.16 551.28 224.89 550.84 225.37C550.39 225.85 550.11 225.98 549.97 226.1" stroke-width="1.15"/>
<path d="M560.01 194.54C560.08 195.54 560.43 198.57 560.45 200.55C560.47 202.52 560.35 204.52 560.13 206.4C559.91 208.29 559.55 210.15 559.13 211.86C558.72 213.57 558.18 215.21 557.63 216.68C557.09 218.15 556.45 219.51 555.85 220.67C555.25 221.83 554.6 222.84 554.06 223.64C553.52 224.44 552.94 225.07 552.6 225.48C552.25 225.89 552.07 226 551.97 226.1" stroke-width="0.95"/>
<path d="M552.88 168.32C553.11 168.44 553.68 168.57 554.28 169.04C554.89 169.52 555.73 170.25 556.52 171.18C557.32 172.11 558.22 173.29 559.05 174.62C559.87 175.96 560.74 177.52 561.49 179.2C562.23 180.87 562.96 182.74 563.54 184.67C564.12 186.6 564.62 188.69 564.97 190.78C565.32 192.87 565.56 195.07 565.64 197.21C565.73 199.35 565.67 201.55 565.49 203.64C565.31 205.73 564.98 207.81 564.57 209.74C564.16 211.68 563.61 213.55 563.03 215.22C562.45 216.9 561.76 218.46 561.1 219.8C560.45 221.13 559.72 222.31 559.1 223.24C558.47 224.17 557.81 224.9 557.37 225.38C556.93 225.85 556.63 225.98 556.48 226.1" stroke-width="1.15"/>
<path d="M552.88 168.32C553.16 168.44 553.84 168.57 554.55 169.04C555.27 169.52 556.23 170.25 557.15 171.18C558.07 172.11 559.11 173.29 560.07 174.62C561.02 175.96 562.02 177.52 562.89 179.2C563.76 180.87 564.6 182.74 565.28 184.67C565.96 186.6 566.56 188.69 566.99 190.78C567.41 192.87 567.71 195.07 567.84 197.21C567.97 199.35 567.95 201.55 567.79 203.64C567.63 205.73 567.3 207.81 566.88 209.74C566.46 211.68 565.89 213.55 565.29 215.22C564.68 216.9 563.95 218.46 563.27 219.8C562.58 221.13 561.81 222.31 561.15 223.24C560.5 224.17 559.8 224.9 559.35 225.38C558.91 225.85 558.62 225.98 558.48 226.1" stroke-width="1.15"/>
<path d="M568.56 194.69C568.63 195.69 568.98 198.7 569 200.67C569.02 202.64 568.9 204.62 568.68 206.5C568.46 208.37 568.1 210.22 567.68 211.93C567.26 213.63 566.72 215.27 566.17 216.73C565.62 218.19 564.98 219.54 564.38 220.69C563.78 221.85 563.13 222.86 562.58 223.65C562.04 224.45 561.46 225.07 561.11 225.48C560.76 225.89 560.58 226 560.48 226.1" stroke-width="0.95"/>
<path d="M561.33 168.59C561.57 168.71 562.14 168.84 562.75 169.31C563.36 169.79 564.2 170.52 564.99 171.44C565.79 172.37 566.69 173.54 567.52 174.87C568.35 176.2 569.22 177.75 569.97 179.42C570.72 181.09 571.45 182.95 572.03 184.87C572.62 186.79 573.12 188.87 573.47 190.95C573.82 193.03 574.05 195.21 574.14 197.35C574.23 199.48 574.17 201.67 573.99 203.74C573.81 205.82 573.47 207.9 573.06 209.82C572.65 211.74 572.09 213.61 571.51 215.27C570.93 216.94 570.24 218.5 569.58 219.83C568.92 221.16 568.19 222.33 567.56 223.25C566.94 224.18 566.27 224.9 565.83 225.38C565.39 225.85 565.08 225.98 564.93 226.1" stroke-width="1.15"/>
<path d="M561.33 168.59C561.61 168.71 562.3 168.84 563.01 169.31C563.73 169.79 564.7 170.52 565.62 171.44C566.54 172.37 567.58 173.54 568.54 174.87C569.5 176.2 570.5 177.75 571.37 179.42C572.24 181.09 573.09 182.95 573.77 184.87C574.46 186.79 575.06 188.87 575.48 190.95C575.91 193.03 576.21 195.21 576.34 197.35C576.47 199.48 576.44 201.67 576.28 203.74C576.12 205.82 575.79 207.9 575.37 209.82C574.95 211.74 574.38 213.61 573.77 215.27C573.17 216.94 572.43 218.5 571.74 219.83C571.05 221.16 570.28 222.33 569.62 223.25C568.97 224.18 568.26 224.9 567.81 225.38C567.37 225.85 567.08 225.98 566.93 226.1" stroke-width="1.15"/>
<path d="M577.06 194.84C577.13 195.83 577.48 198.83 577.5 200.79C577.52 202.75 577.39 204.72 577.17 206.59C576.95 208.46 576.59 210.3 576.17 211.99C575.75 213.69 575.21 215.32 574.66 216.77C574.1 218.23 573.46 219.57 572.86 220.72C572.25 221.87 571.6 222.87 571.05 223.66C570.5 224.46 569.92 225.08 569.57 225.48C569.22 225.89 569.04 226 568.93 226.1" stroke-width="0.95"/>
<path d="M569.73 168.87C569.97 168.99 570.54 169.11 571.15 169.58C571.76 170.06 572.61 170.78 573.41 171.7C574.21 172.62 575.11 173.79 575.95 175.11C576.78 176.43 577.65 177.98 578.4 179.64C579.16 181.3 579.88 183.15 580.47 185.07C581.05 186.98 581.56 189.05 581.91 191.12C582.27 193.18 582.5 195.36 582.58 197.48C582.67 199.61 582.61 201.78 582.43 203.85C582.25 205.92 581.91 207.99 581.5 209.9C581.08 211.81 580.53 213.67 579.94 215.33C579.36 216.99 578.66 218.53 578 219.86C577.34 221.18 576.61 222.35 575.98 223.27C575.35 224.19 574.68 224.91 574.24 225.38C573.8 225.85 573.49 225.98 573.33 226.1" stroke-width="1.15"/>
<path d="M569.73 168.87C570.02 168.99 570.7 169.11 571.42 169.58C572.14 170.06 573.11 170.78 574.04 171.7C574.96 172.62 576 173.79 576.96 175.11C577.93 176.43 578.93 177.98 579.8 179.64C580.68 181.3 581.52 183.15 582.21 185.07C582.9 186.98 583.5 189.05 583.93 191.12C584.35 193.18 584.65 195.36 584.78 197.48C584.92 199.61 584.89 201.78 584.73 203.85C584.56 205.92 584.23 207.99 583.81 209.9C583.39 211.81 582.81 213.67 582.2 215.33C581.59 216.99 580.86 218.53 580.16 219.86C579.47 221.18 578.69 222.35 578.04 223.27C577.38 224.19 576.67 224.91 576.22 225.38C575.77 225.85 575.48 225.98 575.33 226.1" stroke-width="1.15"/>
<path d="M585.5 194.99C585.58 195.98 585.92 198.96 585.94 200.91C585.96 202.86 585.84 204.82 585.61 206.68C585.39 208.54 585.03 210.37 584.61 212.06C584.18 213.75 583.64 215.37 583.08 216.82C582.53 218.26 581.88 219.6 581.28 220.74C580.67 221.89 580.01 222.89 579.46 223.68C578.91 224.47 578.33 225.08 577.98 225.49C577.62 225.89 577.44 226 577.33 226.1" stroke-width="0.95"/>
<path d="M578.08 169.14C578.32 169.26 578.89 169.38 579.5 169.85C580.12 170.32 580.96 171.04 581.77 171.96C582.57 172.87 583.48 174.03 584.31 175.35C585.15 176.67 586.02 178.21 586.78 179.86C587.53 181.51 588.26 183.36 588.85 185.26C589.44 187.16 589.95 189.22 590.3 191.28C590.65 193.34 590.89 195.51 590.97 197.62C591.06 199.73 591 201.9 590.81 203.96C590.63 206.02 590.3 208.07 589.88 209.98C589.46 211.88 588.9 213.72 588.32 215.38C587.73 217.03 587.03 218.57 586.37 219.89C585.71 221.2 584.97 222.36 584.34 223.28C583.71 224.2 583.03 224.92 582.59 225.39C582.15 225.86 581.83 225.98 581.68 226.1" stroke-width="1.15"/>
<path d="M578.08 169.14C578.36 169.26 579.05 169.38 579.77 169.85C580.49 170.32 581.47 171.04 582.39 171.96C583.32 172.87 584.37 174.03 585.33 175.35C586.3 176.67 587.3 178.21 588.18 179.86C589.05 181.51 589.9 183.36 590.59 185.26C591.28 187.16 591.88 189.22 592.31 191.28C592.74 193.34 593.04 195.51 593.17 197.62C593.31 199.73 593.28 201.9 593.11 203.96C592.95 206.02 592.61 208.07 592.19 209.98C591.77 211.88 591.19 213.72 590.58 215.38C589.97 217.03 589.23 218.57 588.53 219.89C587.83 221.2 587.05 222.36 586.39 223.28C585.73 224.2 585.02 224.92 584.57 225.39C584.12 225.86 583.83 225.98 583.68 226.1" stroke-width="1.15"/>
<path d="M593.89 195.14C593.96 196.12 594.31 199.09 594.33 201.03C594.35 202.97 594.22 204.92 594 206.77C593.77 208.62 593.41 210.45 592.99 212.13C592.56 213.81 592.01 215.42 591.46 216.86C590.9 218.3 590.25 219.63 589.64 220.77C589.03 221.91 588.37 222.9 587.82 223.69C587.27 224.47 586.68 225.09 586.33 225.49C585.97 225.89 585.79 226 585.68 226.1" stroke-width="0.95"/>
<path d="M586.37 169.41C586.61 169.53 587.18 169.65 587.8 170.12C588.42 170.59 589.27 171.3 590.07 172.21C590.87 173.13 591.79 174.28 592.63 175.59C593.46 176.9 594.34 178.44 595.1 180.08C595.86 181.72 596.59 183.56 597.18 185.45C597.77 187.35 598.28 189.4 598.63 191.45C598.99 193.5 599.22 195.65 599.31 197.75C599.39 199.86 599.33 202.01 599.15 204.06C598.96 206.11 598.63 208.16 598.21 210.05C597.79 211.95 597.23 213.78 596.64 215.43C596.05 217.07 595.35 218.6 594.68 219.92C594.02 221.23 593.27 222.38 592.64 223.29C592.01 224.21 591.33 224.92 590.89 225.39C590.44 225.86 590.13 225.98 589.97 226.1" stroke-width="1.15"/>
<path d="M586.37 169.41C586.66 169.53 587.35 169.65 588.07 170.12C588.79 170.59 589.77 171.3 590.7 172.21C591.63 173.13 592.68 174.28 593.64 175.59C594.61 176.9 595.62 178.44 596.5 180.08C597.38 181.72 598.23 183.56 598.92 185.45C599.61 187.35 600.21 189.4 600.64 191.45C601.08 193.5 601.37 195.65 601.51 197.75C601.64 199.86 601.61 202.01 601.44 204.06C601.28 206.11 600.94 208.16 600.52 210.05C600.1 211.95 599.51 213.78 598.9 215.43C598.29 217.07 597.55 218.6 596.84 219.92C596.14 221.23 595.36 222.38 594.7 223.29C594.04 224.21 593.32 224.92 592.87 225.39C592.41 225.86 592.12 225.98 591.97 226.1" stroke-width="1.15"/>
<path d="M602.22 195.28C602.3 196.26 602.65 199.22 602.66 201.15C602.68 203.08 602.55 205.02 602.33 206.87C602.1 208.71 601.74 210.52 601.31 212.19C600.89 213.87 600.33 215.47 599.78 216.9C599.22 218.34 598.56 219.66 597.95 220.79C597.34 221.93 596.68 222.92 596.12 223.7C595.57 224.48 594.98 225.09 594.62 225.49C594.27 225.89 594.08 226 593.97 226.1" stroke-width="0.95"/>
<path d="M594.61 169.67C594.85 169.79 595.42 169.92 596.04 170.38C596.66 170.85 597.51 171.56 598.32 172.47C599.13 173.38 600.04 174.53 600.88 175.83C601.73 177.13 602.6 178.66 603.36 180.3C604.13 181.93 604.86 183.76 605.45 185.65C606.04 187.53 606.56 189.57 606.91 191.61C607.27 193.65 607.5 195.79 607.59 197.89C607.67 199.98 607.61 202.13 607.42 204.17C607.24 206.21 606.9 208.24 606.48 210.13C606.06 212.01 605.5 213.84 604.91 215.48C604.32 217.11 603.61 218.64 602.94 219.94C602.27 221.25 601.53 222.4 600.89 223.31C600.26 224.21 599.57 224.93 599.13 225.39C598.68 225.86 598.36 225.98 598.21 226.1" stroke-width="1.15"/>
<path d="M594.61 169.67C594.9 169.79 595.59 169.92 596.31 170.38C597.03 170.85 598.02 171.56 598.95 172.47C599.88 173.38 600.93 174.53 601.9 175.83C602.87 177.13 603.88 178.66 604.77 180.3C605.65 181.93 606.5 183.76 607.19 185.65C607.89 187.53 608.49 189.57 608.92 191.61C609.35 193.65 609.65 195.79 609.79 197.89C609.92 199.98 609.89 202.13 609.72 204.17C609.56 206.21 609.22 208.24 608.79 210.13C608.37 212.01 607.78 213.84 607.17 215.48C606.55 217.11 605.81 218.64 605.1 219.94C604.4 221.25 603.61 222.4 602.95 223.31C602.28 224.21 601.57 224.93 601.11 225.39C600.66 225.86 600.36 225.98 600.21 226.1" stroke-width="1.15"/>
<path d="M610.5 195.43C610.58 196.4 610.93 199.34 610.94 201.26C610.96 203.19 610.83 205.12 610.61 206.96C610.38 208.79 610.01 210.59 609.58 212.26C609.15 213.92 608.6 215.52 608.04 216.95C607.48 218.37 606.82 219.69 606.21 220.82C605.6 221.95 604.93 222.93 604.37 223.71C603.81 224.49 603.23 225.1 602.87 225.5C602.51 225.89 602.32 226 602.21 226.1" stroke-width="0.95"/>
<path d="M394.75 165.5L399.4 165.2Q404 163.6 409.8 164Q414.49 162.9 419.19 164Q423.85 163.03 428.51 164.28Q433.14 163.33 437.78 164.58Q442.38 163.63 446.98 164.88Q451.55 163.93 456.13 165.17Q460.67 164.22 465.21 165.47Q469.72 164.52 474.24 165.76Q478.72 164.81 483.2 166.05Q487.66 165.1 492.11 166.34Q496.54 165.39 500.96 166.63Q505.36 165.67 509.76 166.92Q514.13 165.96 518.49 167.2Q522.83 166.24 527.17 167.48Q531.49 166.52 535.8 167.76Q540.08 166.8 544.37 168.04Q548.62 167.08 552.88 168.32Q557.11 167.36 561.33 168.59Q565.53 167.63 569.73 168.87Q573.91 167.9 578.08 169.14Q582.23 168.17 586.37 169.41Q590.49 168.44 594.61 169.67L597 169.75" stroke-width="1.35"/>
<path d="M394.75 223.2Q399 225.2 402.6 223.9Q408 226.6 413.4 224.92Q418.09 226.66 422.79 225.5Q427.45 227.1 432.11 225.5Q436.74 227.1 441.38 225.5Q445.98 227.1 450.58 225.5Q455.15 227.1 459.73 225.5Q464.27 227.1 468.81 225.5Q473.32 227.1 477.84 225.5Q482.32 227.1 486.8 225.5Q491.26 227.1 495.71 225.5Q500.14 227.1 504.56 225.5Q508.96 227.1 513.36 225.5Q517.73 227.1 522.09 225.5Q526.43 227.1 530.77 225.5Q535.09 227.1 539.4 225.5Q543.68 227.1 547.97 225.5Q552.22 227.1 556.48 225.5Q560.71 227.1 564.93 225.5Q569.13 227.1 573.33 225.5Q577.51 227.1 581.68 225.5Q585.83 227.1 589.97 225.5Q594.09 227.1 598.21 225.5L603 226.3" stroke-width="1.35"/>
<path d="M595.6 169.7C596.58 169.95 599.55 170.52 601.5 171.2C603.45 171.88 605.15 172.28 607.3 173.75C609.45 175.22 612.57 177.66 614.4 180C616.23 182.34 617.45 185.13 618.3 187.8C619.15 190.47 619.45 193.13 619.5 196C619.55 198.87 619.27 202 618.6 205C617.93 208 616.85 211.25 615.5 214C614.15 216.75 612.58 219.45 610.5 221.5C608.42 223.55 604.25 225.5 603 226.3" stroke-width="1.3"/>
<path d="M603 172.6C604.38 173.6 609.08 175.8 611.25 178.6C613.42 181.4 615.08 186.04 616 189.4C616.92 192.76 616.97 195.48 616.8 198.75C616.63 202.02 616.13 205.62 615 209C613.87 212.38 611.83 216.33 610 219C608.17 221.67 605 224 604 225" stroke-width="1.1"/>
<path d="M600 171.8C601.5 172.9 606.67 175.47 609 178.4C611.33 181.33 613.03 186.01 614 189.4C614.97 192.79 614.97 195.48 614.8 198.75C614.63 202.02 614.13 205.62 613 209C611.87 212.38 609.83 216.27 608 219C606.17 221.73 603 224.33 602 225.4" stroke-width="1.1"/>
</g>
<g fill="none" stroke="#ff0000" stroke-width="1.5">
<path d="M21.9 193V304.2M203.1 193V304.2"/>
<path d="M24.9 301.25L200.1 301.25" stroke-width="1.8"/>
<path d="M23.299999999999997 301.25l5.2 -2.6v5.2z" fill="#ff0000" stroke="none"/>
<path d="M201.7 301.25l-5.2 -2.6v5.2z" fill="#ff0000" stroke="none"/>
<path d="M291.3 225.5V304M379.7 226.3V304M619.6 195V303"/>
<path d="M294.3 290.7L376.7 290.7" stroke-width="1.8"/>
<path d="M292.7 290.7l5.2 -2.6v5.2z" fill="#ff0000" stroke="none"/>
<path d="M378.3 290.7l-5.2 -2.6v5.2z" fill="#ff0000" stroke="none"/>
<path d="M382.7 300.3L616.6 300.3" stroke-width="1.8"/>
<path d="M381.09999999999997 300.3l5.2 -2.6v5.2z" fill="#ff0000" stroke="none"/>
<path d="M618.2 300.3l-5.2 -2.6v5.2z" fill="#ff0000" stroke="none"/>
<path d="M538.4 141.7H494.4L480 158.6" stroke-width="1.3"/>
</g>
<g fill="#ff0000" font-family="Liberation Sans, sans-serif">
<text transform="translate(94.6 327) scale(1.05 1)" font-size="30.2" letter-spacing="0.5">dk</text>
<text transform="translate(325.9 315.9) scale(1.03 1)" font-size="30.8">k</text>
<text transform="translate(490.4 327) scale(1.045 1)" font-size="30.5">L</text>
<text transform="translate(504.4 135.8) scale(1.065 1)" font-size="29.2">d</text>
</g>
</svg>
<div class="n" style="top:380.2px;transform:scaleX(0.92)">※記載のサイズ・重量は平均値です。個体により誤差がございます。また、個体差により着色が</div>
<div class="n i" style="top:404.2px;transform:scaleX(0.92)">異なります。色味違い等による商品の交換はできません。予めご理解の上、ご購入ください。</div>
<div class="n" style="top:428.2px;transform:scaleX(0.9225)">※入荷ロットにより、仕様変更になる場合がございます。</div>
<div class="n" style="top:452.2px;transform:scaleX(0.9163)">※チタンはカジリや焼き付きの発生しやすい材質です。折損防止のため、グリス等のカジリ防止</div>
<div class="n i" style="top:476.2px;transform:scaleX(0.928)">ケミカル材のご使用をお勧め致します。</div>
<div class="n" style="top:500.2px;transform:scaleX(0.9149)">※ご注文確定後のカラーやサイズ・数量などのご変更はできません。ご注文前に必ずご注文内容</div>
<div class="n i" style="top:524.2px;transform:scaleX(0.95)">をご確認ください。</div>

<div class="s" style="top:576.4px;transform:scaleX(1.056)">ストア内検索に商品番号を入力していただけますと</div>
<div class="s" style="top:591.4px;transform:scaleX(1.061)">お探しの商品に素早くアクセスができます。</div>
<div class="inp"></div>
<div class="btn">ストア内検索</div>
<svg class="cur" width="30" height="26" viewBox="610 596 30 26"><path d="M612.8 599.4L626 599.7L623.1 602.8L633.1 611.9L627.5 618.1L617.2 609L614.4 611.9Z" fill="#404141"/></svg>
<i class="h" style="left:554.6px;top:585px"></i><i class="h" style="left:628.6px;top:585px"></i><i class="h" style="left:554.6px;top:600.5px"></i><i class="h" style="left:628.6px;top:600.5px"></i>
</body></html>
